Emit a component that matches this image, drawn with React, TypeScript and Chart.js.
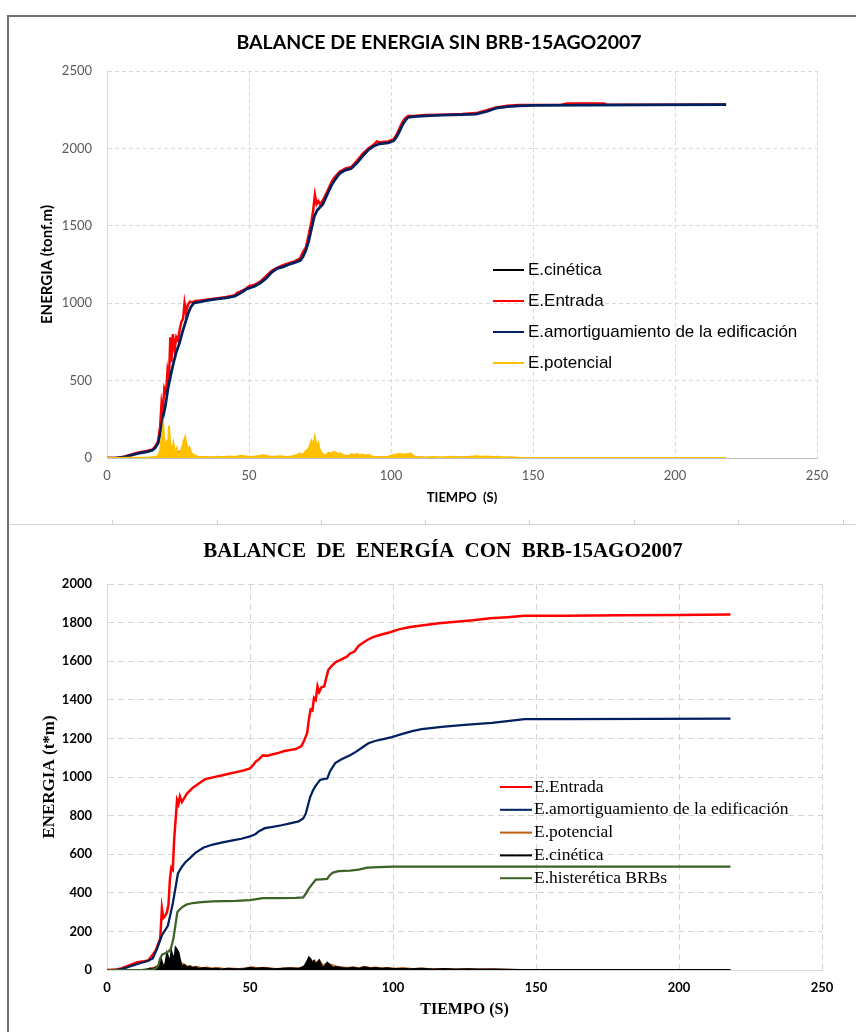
import React, { useEffect, useRef } from 'react';
import { Chart, registerables } from 'chart.js';
Chart.register(...registerables);

type P = [number, number];

// ---------- shared axis values ----------
const X_MIN = 0;
const X_MAX = 250;
const X_STEP = 50;

// ---------- TOP CHART (sin BRB) ----------
const TOP_TITLE = 'BALANCE DE ENERGIA SIN BRB-15AGO2007';
const TOP_Y_TITLE = 'ENERGIA (tonf.m)';
const TOP_X_TITLE = 'TIEMPO  (S)';
const TOP_Y_MAX = 2500;
const TOP_Y_STEP = 500;

const topLabels = ['E.cinética', 'E.Entrada', 'E.amortiguamiento de la edificación', 'E.potencial'];

const cineticaTop: P[] = [
  [0, 0], [12, 0], [16, 2], [18, 8], [19, 40], [19.6, 90], [20.2, 60], [21, 80], [21.6, 100], [22.2, 70],
  [23, 30], [23.6, 60], [24.4, 25], [25.2, 45], [26, 30], [27, 70], [27.6, 90], [28.4, 50], [29.2, 35],
  [30, 15], [32, 6], [36, 4], [40, 6], [44, 5], [48, 9], [52, 5], [56, 12], [60, 6], [64, 8], [68, 15],
  [70, 35], [71.5, 55], [72.5, 70], [73.5, 60], [74.5, 75], [75.5, 30], [77, 12], [79, 25], [80.5, 35],
  [82, 20], [84, 12], [87, 18], [90, 15], [93, 10], [96, 4], [100, 10], [104, 18], [107, 20], [109, 6],
  [113, 3], [120, 4], [128, 6], [134, 5], [140, 2], [146, 0], [218, 0],
];

const entradaTop: P[] = [
  [0, 0], [3, 0], [6, 8], [8, 20], [11, 35], [14, 45], [16, 55], [17, 75], [18, 110], [18.7, 200],
  [19.2, 350], [19.6, 300], [20.2, 450], [20.8, 420], [21.3, 560], [21.8, 500], [22.3, 780], [22.7, 620],
  [23.2, 800], [23.8, 700], [24.4, 780], [25, 760], [25.6, 830], [26.2, 880], [26.8, 900], [27.3, 1000],
  [27.8, 940], [28.5, 990], [29.2, 1010], [30, 1005], [31, 1015], [33, 1018], [36, 1025], [39, 1032],
  [42, 1040], [45, 1052], [46, 1070], [47, 1075], [49, 1095], [50, 1110], [52, 1120], [54, 1140],
  [56, 1175], [58, 1210], [60, 1230], [62, 1245], [64, 1258], [66, 1270], [68, 1290], [69, 1330],
  [70, 1360], [71, 1440], [72, 1530], [72.6, 1600], [73.2, 1700], [73.8, 1640], [74.4, 1660], [75, 1640],
  [76, 1665], [77, 1700], [78, 1740], [79, 1780], [80, 1810], [82, 1850], [84, 1870], [86, 1880],
  [88, 1920], [90, 1965], [92, 2000], [94, 2025], [95, 2045], [96, 2040], [99, 2045], [101, 2060],
  [102, 2090], [103, 2130], [104, 2170], [105, 2195], [106, 2210], [108, 2210], [112, 2215], [118, 2218],
  [125, 2222], [130, 2228], [134, 2248], [137, 2265], [141, 2275], [145, 2280], [150, 2280], [160, 2282],
  [162, 2290], [175, 2290], [176, 2282], [190, 2282], [218, 2283],
];

const amortTop: P[] = [
  [0, 0], [3, 0], [6, 5], [8, 15], [11, 30], [14, 40], [16, 50], [17, 65], [18, 95], [19, 180],
  [19.5, 245], [20.5, 330], [21.5, 450], [22.5, 540], [23.5, 620], [24.5, 690], [25.5, 740], [26.5, 810],
  [27.5, 870], [28.5, 930], [29.5, 975], [30.5, 1000], [33, 1010], [36, 1020], [39, 1028], [42, 1035],
  [45, 1045], [47, 1065], [49, 1090], [52, 1110], [54, 1130], [56, 1160], [58, 1200], [60, 1225],
  [62, 1235], [64, 1250], [66, 1262], [68, 1275], [69, 1300], [70, 1340], [71, 1400], [72, 1480],
  [73, 1560], [74, 1600], [75, 1620], [76, 1640], [77, 1680], [78, 1720], [79, 1760], [80, 1790],
  [82, 1840], [84, 1860], [86, 1870], [88, 1905], [90, 1950], [92, 1990], [94, 2015], [96, 2030],
  [99, 2035], [101, 2050], [102, 2075], [103, 2110], [104, 2150], [105, 2180], [106, 2200], [108, 2205],
  [112, 2210], [118, 2215], [125, 2218], [130, 2222], [134, 2240], [137, 2260], [141, 2270], [145, 2275],
  [150, 2278], [170, 2280], [190, 2281], [218, 2282],
];

const potencialTop: P[] = [
  [0, 0], [4, 0], [8, 1], [12, 2], [15, 3], [17, 6], [18, 15], [18.6, 40], [19, 95], [19.4, 150],
  [19.8, 210], [20.2, 120], [20.6, 60], [21, 90], [21.4, 40], [21.8, 210], [22.2, 110], [22.6, 70],
  [23, 40], [23.4, 95], [23.8, 55], [24.2, 30], [24.6, 60], [25, 35], [25.5, 20], [26, 50], [26.5, 70],
  [27, 110], [27.5, 135], [28, 90], [28.5, 60], [29, 70], [29.5, 40], [30, 25], [31, 15], [32, 8],
  [33, 5], [35, 6], [37, 4], [39, 8], [41, 5], [43, 10], [45, 6], [47, 14], [49, 10], [51, 6], [53, 12],
  [55, 18], [57, 10], [59, 8], [61, 12], [63, 7], [65, 10], [67, 20], [68, 30], [69, 18], [70, 45],
  [71, 60], [72, 110], [72.6, 80], [73.2, 135], [73.8, 70], [74.4, 95], [75, 45], [76, 25], [77, 15],
  [78, 35], [79, 30], [80, 40], [81, 25], [82, 30], [83, 20], [84, 15], [85, 10], [86, 25], [87, 20],
  [88, 25], [89, 18], [90, 22], [91, 15], [92, 20], [93, 12], [94, 8], [95, 6], [97, 5], [99, 8],
  [101, 20], [103, 25], [105, 22], [107, 28], [108, 10], [110, 5], [112, 4], [115, 6], [118, 4],
  [121, 8], [124, 3], [127, 6], [130, 12], [132, 8], [134, 10], [136, 6], [138, 8], [140, 3], [142, 5],
  [145, 1], [150, 0], [218, 0],
];

// ---------- BOTTOM CHART (con BRB) ----------
const BOT_TITLE = 'BALANCE  DE  ENERGÍA  CON  BRB-15AGO2007';
const BOT_Y_TITLE = 'ENERGIA (t*m)';
const BOT_X_TITLE = 'TIEMPO (S)';
const BOT_Y_MAX = 2000;
const BOT_Y_STEP = 200;

const botLabels = ['E.Entrada', 'E.amortiguamiento de la edificación', 'E.potencial', 'E.cinética', 'E.histerética BRBs'];

const entradaBot: P[] = [
  [0, 0], [3, 2], [5, 8], [8, 25], [10.5, 40], [13, 45], [14.5, 50], [16, 80], [17, 100], [18, 140],
  [18.6, 160], [19.2, 320], [19.7, 270], [20.3, 280], [21, 300], [21.5, 340], [22, 470], [22.5, 530],
  [23, 520], [23.5, 680], [24, 780], [24.5, 880], [25, 860], [25.5, 900], [26.2, 870], [27, 890],
  [28, 915], [29, 930], [30, 945], [31.5, 960], [33, 975], [34.5, 990], [37, 998], [40, 1008], [43, 1018],
  [46, 1028], [48, 1035], [50, 1045], [51, 1060], [52, 1080], [53, 1090], [54.5, 1112], [56, 1110],
  [58, 1118], [60, 1125], [62, 1135], [64, 1140], [66, 1145], [68, 1160], [69, 1190], [70, 1230],
  [70.6, 1300], [71.2, 1350], [71.8, 1345], [72.4, 1410], [73, 1400], [73.6, 1470], [74.2, 1440],
  [75, 1465], [76, 1470], [76.6, 1510], [77.4, 1555], [78.5, 1575], [80, 1595], [82, 1610], [84, 1625],
  [85, 1640], [86.5, 1650], [88, 1680], [89, 1690], [91, 1710], [93, 1725], [96, 1738], [99, 1750],
  [102, 1765], [106, 1777], [110, 1785], [116, 1797], [122, 1805], [128, 1812], [134, 1822], [140, 1828],
  [146, 1835], [160, 1836], [180, 1838], [200, 1840], [218, 1842],
];

const amortBot: P[] = [
  [0, 0], [3, 0], [6, 8], [8, 18], [11.5, 35], [14, 45], [16, 60], [17.5, 110], [19.2, 180], [20.5, 210],
  [21.3, 230], [22.2, 290], [23, 345], [24, 430], [24.8, 500], [26.2, 535], [27.5, 560], [29, 580],
  [31, 608], [33.8, 635], [37, 650], [40, 660], [44.4, 673], [47, 680], [50, 692], [52, 705], [53, 718],
  [55.2, 735], [58, 742], [61, 750], [64, 760], [67, 770], [68.6, 785], [69.5, 810], [70.2, 850],
  [71, 895], [72, 930], [73, 955], [74.5, 985], [76, 990], [77, 992], [78, 1030], [79.8, 1072],
  [82, 1092], [85, 1113], [87, 1130], [89, 1150], [91.4, 1175], [94, 1188], [97, 1198], [99.6, 1207],
  [103, 1222], [106.7, 1238], [110, 1248], [117, 1260], [125, 1270], [134.6, 1280], [140, 1290],
  [146, 1300], [160, 1300], [190, 1301], [218, 1302],
];

const potencialBot: P[] = [
  [0, 0], [12, 0], [14, 4], [15.5, 10], [17, 15], [18, 25], [19, 40], [20, 20], [21, 55], [22, 45],
  [23, 75], [24, 60], [25, 80], [26, 35], [27, 30], [28, 20], [29, 22], [30, 15], [31.5, 18], [33, 10],
  [35, 14], [37, 8], [39, 11], [41, 6], [43, 9], [46, 7], [49, 10], [51, 15], [53, 9], [55, 13], [57, 10],
  [59, 6], [62, 9], [65, 11], [68, 12], [69.5, 25], [70.5, 50], [71.5, 45], [72.5, 50], [73.5, 35],
  [74.5, 45], [75.5, 25], [77, 35], [78.5, 28], [80, 20], [82, 15], [84, 12], [86, 16], [88, 10],
  [90, 18], [92, 12], [94, 14], [96, 9], [98, 12], [101, 8], [104, 10], [107, 7], [110, 9], [114, 5],
  [118, 7], [122, 4], [126, 6], [130, 4], [135, 5], [140, 2], [146, 0], [218, 0],
];

const cineticaBot: P[] = [
  [0, 0], [12, 0], [14, 2], [15, 8], [16, 4], [17, 12], [18, 20], [18.5, 35], [19, 50], [19.5, 25],
  [20, 15], [20.5, 40], [21, 85], [21.5, 60], [22, 30], [22.5, 95], [23, 70], [23.5, 40], [24, 115],
  [24.5, 105], [25, 90], [25.5, 50], [26, 20], [27, 25], [28, 12], [29, 18], [30, 10], [31, 14], [32, 6],
  [34, 10], [36, 5], [38, 8], [40, 3], [42, 6], [45, 4], [48, 5], [50, 12], [52, 6], [54, 10], [56, 8],
  [58, 4], [61, 6], [64, 9], [67, 5], [69, 18], [70, 45], [70.6, 65], [71.2, 55], [71.8, 30], [72.4, 45],
  [73, 25], [73.6, 40], [74.2, 50], [75, 20], [76, 15], [77, 38], [78, 25], [79, 12], [80, 15], [82, 10],
  [84, 8], [86, 12], [88, 6], [90, 14], [92, 8], [94, 10], [96, 6], [98, 9], [100, 5], [103, 7],
  [106, 4], [110, 6], [114, 3], [118, 5], [122, 2], [126, 4], [130, 2], [135, 3], [140, 1], [145, 0],
  [218, 0],
];

const histereticaBot: P[] = [
  [0, 0], [14, 0], [16, 2], [17, 8], [18, 25], [18.6, 60], [19.3, 80], [20.6, 88], [21.5, 95],
  [22.3, 110], [23.2, 160], [24, 240], [24.6, 300], [25.5, 315], [26.5, 328], [28, 340], [30, 347],
  [33, 352], [37, 355], [45, 358], [50, 362], [54.5, 372], [60, 372], [66, 374], [68.6, 376], [69.5, 395],
  [70.5, 420], [71.5, 440], [73, 468], [75, 470], [77, 472], [77.8, 490], [79, 505], [81, 512], [85, 515],
  [88, 520], [91, 530], [95, 533], [100, 535], [120, 535], [218, 535],
];

// ---------- helpers ----------
const toXY = (s: P[]) => s.map(([x, y]) => ({ x, y }));
const plainTick = (v: any) => String(v);

const inlineLegend = {
  id: 'inlineLegend',
  afterDatasetsDraw(chart: any, _args: any, opts: any) {
    const { ctx } = chart;
    ctx.save();
    ctx.font = opts.font;
    ctx.textBaseline = 'middle';
    ctx.textAlign = 'left';
    opts.order.forEach((di: number, i: number) => {
      const ds = chart.data.datasets[di];
      const y = opts.y + i * opts.dy;
      ctx.strokeStyle = ds.borderColor;
      ctx.lineWidth = opts.lineWidth;
      ctx.beginPath();
      ctx.moveTo(opts.x, y);
      ctx.lineTo(opts.x + opts.len, y);
      ctx.stroke();
      ctx.fillStyle = opts.color;
      ctx.fillText(ds.label, opts.x + opts.len + opts.gap, y);
    });
    ctx.restore();
  },
};

const fixedTitle = {
  id: 'fixedTitle',
  afterDraw(chart: any, _args: any, opts: any) {
    const { ctx } = chart;
    ctx.save();
    ctx.font = opts.font;
    ctx.fillStyle = opts.color;
    ctx.textAlign = 'center';
    ctx.textBaseline = 'middle';
    ctx.fillText(opts.text, opts.x, opts.y);
    ctx.restore();
  },
};

function line(label: string, data: P[], color: string, width: number, order: number, fill = false) {
  return {
    label,
    data: toXY(data),
    borderColor: color,
    backgroundColor: color,
    borderWidth: width,
    pointRadius: 0,
    tension: 0,
    order,
    fill: fill ? 'origin' : false,
  };
}

function TopChart() {
  const ref = useRef<HTMLCanvasElement>(null);
  useEffect(() => {
    const chart = new Chart(ref.current as HTMLCanvasElement, {
      type: 'line',
      data: {
        datasets: [
          line(topLabels[0], cineticaTop, '#000000', 1, 4, true),
          line(topLabels[1], entradaTop, '#ff0000', 2.5, 3),
          line(topLabels[2], amortTop, '#002060', 2.75, 2),
          line(topLabels[3], potencialTop, '#ffc000', 2, 1, true),
        ] as any,
      },
      options: {
        responsive: false,
        animation: false,
        events: [],
        layout: { padding: { left: 0, right: 39, top: 56, bottom: 0 } },
        plugins: {
          legend: { display: false },
          tooltip: { enabled: false },
          title: { display: false },
          fixedTitle: {
            text: TOP_TITLE, x: 431, y: 28, color: '#000',
            font: 'bold 19.5px Lato, "Open Sans", sans-serif',
          },
          inlineLegend: {
            order: [0, 1, 2, 3],
            x: 485, y: 255, dy: 31, len: 31, gap: 4, lineWidth: 2,
            font: '17px "Liberation Sans", Arial, sans-serif', color: '#000',
          },
        } as any,
        scales: {
          x: {
            type: 'linear', min: X_MIN, max: X_MAX,
            ticks: { stepSize: X_STEP, padding: 10, color: '#595959', font: { family: 'Lato', size: 13 }, callback: plainTick },
            grid: { color: '#d9d9d9', drawTicks: false },
            border: { display: true, color: '#bfbfbf', width: 1, dash: [4, 3] },
            title: {
              display: true, text: TOP_X_TITLE, color: '#000',
              font: { family: 'Lato', size: 13, weight: 'bold' }, padding: { top: 0, bottom: 19 },
            },
            afterFit: (s: any) => { s.height = 67; },
          },
          y: {
            type: 'linear', min: 0, max: TOP_Y_MAX,
            ticks: { stepSize: TOP_Y_STEP, padding: 15, color: '#595959', font: { family: 'Lato', size: 13 }, callback: plainTick },
            grid: { color: '#d9d9d9', drawTicks: false },
            border: { display: true, color: '#d9d9d9', width: 1, dash: [4, 3] },
            title: {
              display: true, text: TOP_Y_TITLE, color: '#000',
              font: { family: 'Lato', size: 15, weight: 'bold' }, padding: { top: 30, bottom: 0 },
            },
            afterFit: (s: any) => { s.width = 99; },
          },
        } as any,
      },
      plugins: [inlineLegend as any, fixedTitle as any],
    });
    return () => chart.destroy();
  }, []);
  return <canvas ref={ref} width={848} height={510} style={{ position: 'absolute', left: 8, top: 15, width: 848, height: 510 }} />;
}

function BottomChart() {
  const ref = useRef<HTMLCanvasElement>(null);
  useEffect(() => {
    const chart = new Chart(ref.current as HTMLCanvasElement, {
      type: 'line',
      data: {
        datasets: [
          line(botLabels[0], entradaBot, '#ff0000', 2.5, 5),
          line(botLabels[1], amortBot, '#002060', 2.25, 4),
          line(botLabels[2], potencialBot, '#c55a11', 1.5, 3),
          line(botLabels[3], cineticaBot, '#000000', 2, 2, true),
          line(botLabels[4], histereticaBot, '#3b6424', 2.25, 1),
        ] as any,
      },
      options: {
        responsive: false,
        animation: false,
        events: [],
        layout: { padding: { left: 0, right: 34, top: 59, bottom: 0 } },
        plugins: {
          legend: { display: false },
          tooltip: { enabled: false },
          title: { display: false },
          fixedTitle: {
            text: BOT_TITLE, x: 435, y: 27, color: '#000',
            font: 'bold 21px "Liberation Serif", "Times New Roman", serif',
          },
          inlineLegend: {
            order: [0, 1, 2, 3, 4],
            x: 492, y: 262, dy: 22.8, len: 32, gap: 2, lineWidth: 2,
            font: '17.5px "Liberation Serif", "Times New Roman", serif', color: '#000',
          },
        } as any,
        scales: {
          x: {
            type: 'linear', min: X_MIN, max: X_MAX,
            ticks: { stepSize: X_STEP, padding: 10, color: '#000', font: { family: 'Lato', size: 13, weight: 'bold' }, callback: plainTick },
            grid: { color: '#d4d4d4', drawTicks: false },
            border: { display: true, color: '#d9d9d9', width: 1, dash: [6, 4] },
            title: {
              display: true, text: BOT_X_TITLE, color: '#000',
              font: { family: '"Liberation Serif", "Times New Roman", serif', size: 16, weight: 'bold' },
              padding: { top: 0, bottom: 12.4 },
            },
            afterFit: (s: any) => { s.height = 62; },
          },
          y: {
            type: 'linear', min: 0, max: BOT_Y_MAX,
            ticks: { stepSize: BOT_Y_STEP, padding: 15, color: '#000', font: { family: 'Lato', size: 13, weight: 'bold' }, callback: plainTick },
            grid: { color: '#d4d4d4', drawTicks: false },
            border: { display: true, color: '#d9d9d9', width: 1, dash: [6, 4] },
            title: {
              display: true, text: BOT_Y_TITLE, color: '#000',
              font: { family: '"Liberation Serif", "Times New Roman", serif', size: 17, weight: 'bold' },
              padding: { top: 31.8, bottom: 0 },
            },
            afterFit: (s: any) => { s.width = 99; },
          },
        } as any,
      },
      plugins: [inlineLegend as any, fixedTitle as any],
    });
    return () => chart.destroy();
  }, []);
  return <canvas ref={ref} width={848} height={507} style={{ position: 'absolute', left: 8, top: 525, width: 848, height: 507 }} />;
}

const SEPARATOR_TICKS = [112, 217, 321, 425, 529, 634, 738, 843];

export default function App() {
  const frame = '#6f6f6f';
  return (
    <div style={{ position: 'absolute', left: 0, top: 0, width: 856, height: 1032, background: '#fff', overflow: 'hidden' }}>
      <TopChart />
      <BottomChart />
      {/* top frame */}
      <div style={{ position: 'absolute', left: 7, top: 15, width: 2, height: 510, background: frame }} />
      <div style={{ position: 'absolute', left: 7, top: 15, width: 849, height: 2, background: frame }} />
      {/* separator */}
      <div style={{ position: 'absolute', left: 10, top: 524, width: 846, height: 1, background: '#d4d4d4' }} />
      {SEPARATOR_TICKS.map((x) => (
        <div key={x} style={{ position: 'absolute', left: x, top: 520, width: 1, height: 4, background: '#d4d4d4' }} />
      ))}
      {/* bottom frame */}
      <div style={{ position: 'absolute', left: 7, top: 525, width: 2, height: 507, background: frame }} />
    </div>
  );
}
